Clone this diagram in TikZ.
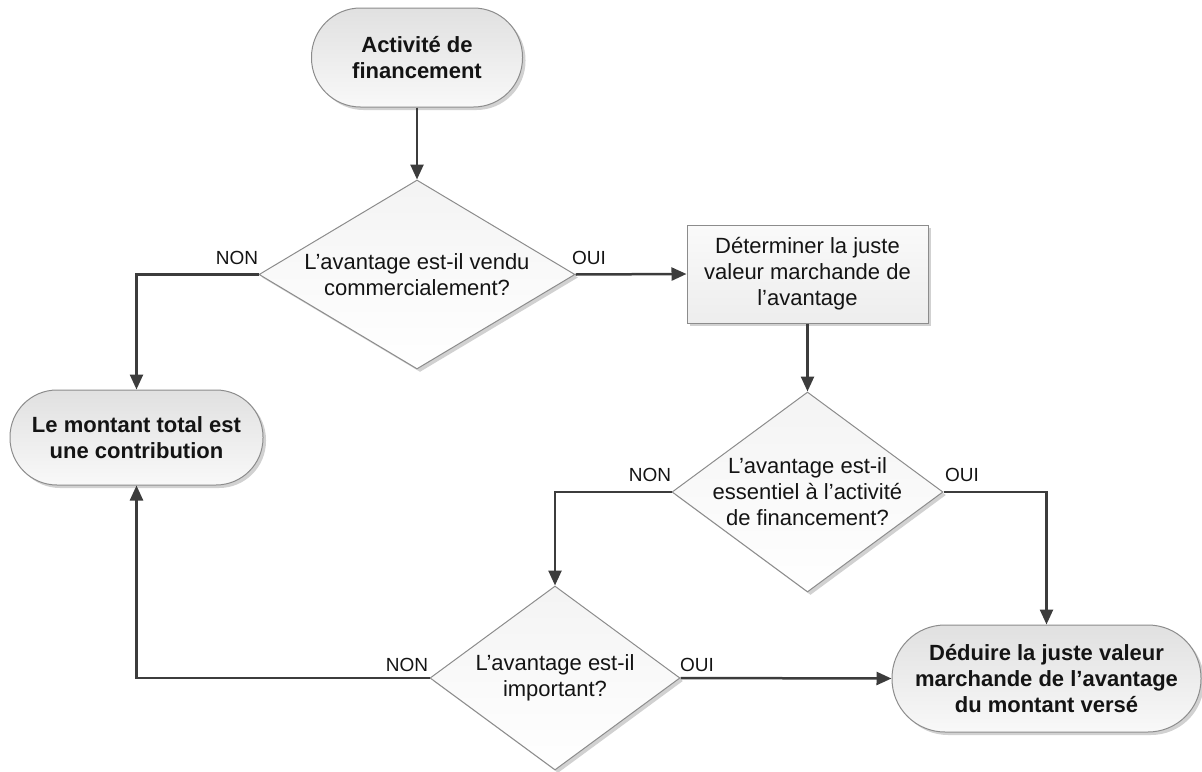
\documentclass[tikz,border=0pt]{standalone}
\usepackage{fontspec}
\setmainfont{Liberation Sans}
\usetikzlibrary{shapes.geometric,arrows.meta,shadows}
\definecolor{edgegray}{HTML}{8C8C8C}
\definecolor{arrgray}{HTML}{3C3C3C}
\definecolor{txt}{HTML}{141414}
\tikzset{
  shadowed/.style={drop shadow={shadow xshift=3pt,shadow yshift=-3pt,fill=black,opacity=0.18}},
  term/.style={draw=edgegray,line width=1pt,shadowed,top color=gray!24,bottom color=gray!5,
    rectangle,inner sep=0pt,align=center,text=txt,font=\fontsize{22}{26}\selectfont\bfseries},
  procbox/.style={draw=edgegray,line width=1pt,shadowed,top color=gray!4,bottom color=gray!14,
    rectangle,inner sep=0pt,align=center,text=txt,font=\fontsize{22}{26}\selectfont},
  dia/.style={draw=edgegray,line width=1pt,shadowed,top color=gray!9,bottom color=white,
    diamond,inner sep=0pt},
  qtext/.style={align=center,text=txt,inner sep=0pt,font=\fontsize{22}{26}\selectfont},
  lbl/.style={text=txt,inner sep=0pt,font=\fontsize{19}{22}\selectfont},
  arr/.style={draw=arrgray,line width=2.5pt,-{Triangle[length=15pt,width=13pt]}}
}
\begin{document}
\begin{tikzpicture}[x=1pt,y=-1pt]
\useasboundingbox (0,0) rectangle (1202,771);
% terminators
\node[term,minimum width=211pt,minimum height=99pt,rounded corners=49pt] (t1) at (417,57.5) {Activité de\\financement};
\node[term,minimum width=253pt,minimum height=95pt,rounded corners=47pt] (t2) at (136.5,437.5) {Le montant total est\\une contribution};
\node[term,minimum width=309pt,minimum height=107pt,rounded corners=53pt] (t3) at (1046.5,678.5) {Déduire la juste valeur\\marchande de l’avantage\\du montant versé};
% process box
\node[procbox,minimum width=241pt,minimum height=98pt] (box) at (807.5,274) {Déterminer la juste\\valeur marchande de\\l’avantage};
% decisions
\node[dia,minimum width=316pt,minimum height=189pt] (d1) at (417,274.5) {};
\node[qtext] (q1) at (d1.center) {L’avantage est-il vendu\\commercialement?};
\node[dia,minimum width=271pt,minimum height=200pt] (d2) at (807.5,492) {};
\node[qtext] (q2) at (d2.center) {L’avantage est-il\\essentiel à l’activité\\de financement?};
\node[dia,minimum width=250pt,minimum height=184pt] (d3) at (555,678) {};
\node[qtext] (q3) at (d3.center) {L’avantage est-il\\important?};
% labels
\node[lbl] (l1) at (237,258) {NON};
\node[lbl] (l2) at (589,258) {OUI};
\node[lbl] (l3) at (650,475) {NON};
\node[lbl] (l4) at (962,475) {OUI};
\node[lbl] (l5) at (407,665) {NON};
\node[lbl] (l6) at (697,665) {OUI};
% connectors
\draw[arr] (t1.south) -- (d1.north);
\draw[arr] (d1.west) -| (t2.north);
\draw[arr] (d1.east) -- (box.west);
\draw[arr] (box.south) -- (d2.north);
\draw[arr] (d2.west) -| (d3.north);
\draw[arr] (d2.east) -| (t3.north);
\draw[arr] (d3.west) -| (t2.south);
\draw[arr] (d3.east) -- (t3.west);
\end{tikzpicture}
\end{document}
